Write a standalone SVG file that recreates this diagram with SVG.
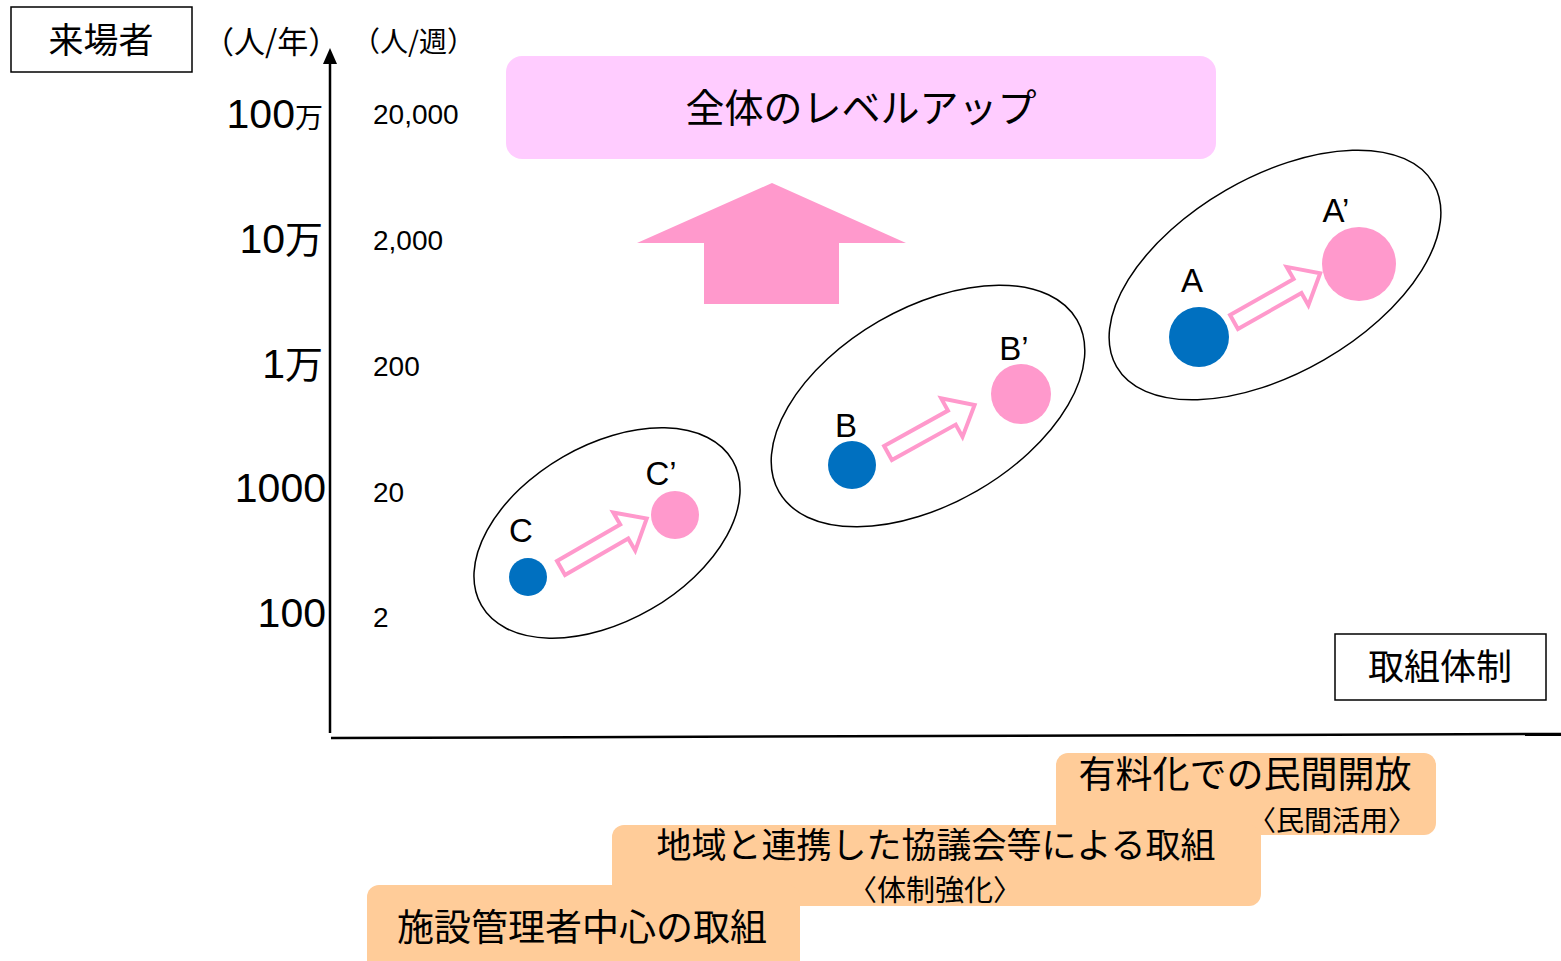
<svg xmlns="http://www.w3.org/2000/svg" width="1561" height="961" viewBox="0 0 1561 961">
<style>
text{font-family:"Liberation Sans","Noto Sans CJK JP",sans-serif;fill:#000}
.jp{font-family:"Noto Sans CJK JP","Liberation Sans",sans-serif}
.box{fill:#fff;stroke:#000;stroke-width:1.5}
.ell{fill:none;stroke:#000;stroke-width:1.5}
.blue{fill:#0070c0}
.pink{fill:#ff99cc}
.harrow{fill:#fff;stroke:#ff99cc;stroke-width:4;stroke-linejoin:miter}
.step{fill:#ffcc99}
.lbl{font-size:33px;text-anchor:middle}
.yl{font-size:41px;text-anchor:end}
.yr{font-size:28px}
</style>
<defs>
<path id="ha" d="M0,-8 L73,-8 L73,-22 L99,0 L73,22 L73,8 L0,8 Z"/>
</defs>

<g id="axes">
<line x1="330" y1="733" x2="330" y2="60" stroke="#000" stroke-width="2.5"/>
<polygon points="330,48 323,64 337,64" fill="#000"/>
<line x1="331" y1="738" x2="1561" y2="734" stroke="#000" stroke-width="2.5"/>
</g>

<g id="y-title">
<rect class="box" x="11" y="7" width="181" height="65"/>
<text class="jp" x="101" y="53" font-size="35" text-anchor="middle">来場者</text>
</g>
<text class="jp" x="203" y="53" font-size="31">（人/年）</text>
<text class="jp" x="352" y="52" font-size="28">（人/週）</text>

<g id="y-labels-left">
<text class="yl" x="323" y="128">100<tspan class="jp" font-size="28">万</tspan></text>
<text class="yl" x="323" y="253">10<tspan class="jp" font-size="38">万</tspan></text>
<text class="yl" x="323" y="378">1<tspan class="jp" font-size="38">万</tspan></text>
<text class="yl" x="326" y="502">1000</text>
<text class="yl" x="326" y="627">100</text>
</g>
<g id="y-labels-right">
<text class="yr" x="373" y="124">20,000</text>
<text class="yr" x="373" y="250">2,000</text>
<text class="yr" x="373" y="376">200</text>
<text class="yr" x="373" y="502">20</text>
<text class="yr" x="373" y="627">2</text>
</g>

<g id="level-up">
<rect x="506" y="56" width="710" height="103" rx="16" fill="#ffccff"/>
<text class="jp" x="861" y="122" font-size="39" text-anchor="middle">全体のレベルアップ</text>
</g>
<g id="up-arrow">
<polygon class="pink" points="772,183 906,243 839,243 839,304 704,304 704,243 637,243"/>
</g>

<g id="group-C">
<ellipse class="ell" cx="607" cy="533" rx="145" ry="88" transform="rotate(-30 607 533)"/>
<circle class="blue" cx="528" cy="577" r="19"/>
<circle class="pink" cx="675" cy="515" r="24"/>
<text class="lbl" x="521" y="542">C</text>
<text class="lbl" x="661" y="485">C’</text>
</g>
<g id="group-B">
<ellipse class="ell" cx="928" cy="406" rx="172" ry="98" transform="rotate(-30 928 406)"/>
<circle class="blue" cx="852" cy="465" r="24"/>
<circle class="pink" cx="1021" cy="394" r="30"/>
<text class="lbl" x="846" y="437">B</text>
<text class="lbl" x="1014" y="360">B’</text>
</g>
<g id="group-A">
<ellipse class="ell" cx="1275" cy="275" rx="183" ry="98" transform="rotate(-30 1275 275)"/>
<circle class="blue" cx="1199" cy="337" r="30"/>
<circle class="pink" cx="1359" cy="264" r="37"/>
<text class="lbl" x="1192" y="292">A</text>
<text class="lbl" x="1336" y="222">A’</text>
</g>

<g id="connectors">
<use href="#ha" class="harrow" transform="translate(561,568) rotate(-30)"/>
<use href="#ha" class="harrow" transform="translate(888,453) rotate(-29)"/>
<use href="#ha" class="harrow" transform="translate(1234,322) rotate(-29.5)"/>
</g>

<g id="x-title">
<rect class="box" x="1335" y="634" width="211" height="66"/>
<text class="jp" x="1440" y="680" font-size="36" text-anchor="middle">取組体制</text>
</g>

<g id="step-3">
<rect class="step" x="1056" y="753" width="380" height="82" rx="12"/>
<text class="jp" x="1245" y="788" font-size="37" text-anchor="middle">有料化での民間開放</text>
<text class="jp" x="1416" y="831" font-size="28" text-anchor="end">〈民間活用〉</text>
</g>
<g id="step-2">
<rect class="step" x="612" y="825" width="649" height="81" rx="12"/>
<text class="jp" x="936" y="858" font-size="35" text-anchor="middle">地域と連携した協議会等による取組</text>
<text class="jp" x="935" y="901" font-size="29" text-anchor="middle">〈体制強化〉</text>
</g>
<g id="step-1">
<rect class="step" x="367" y="885" width="433" height="90" rx="12"/>
<text class="jp" x="397" y="941" font-size="37">施設管理者中心の取組</text>
</g>
</svg>
